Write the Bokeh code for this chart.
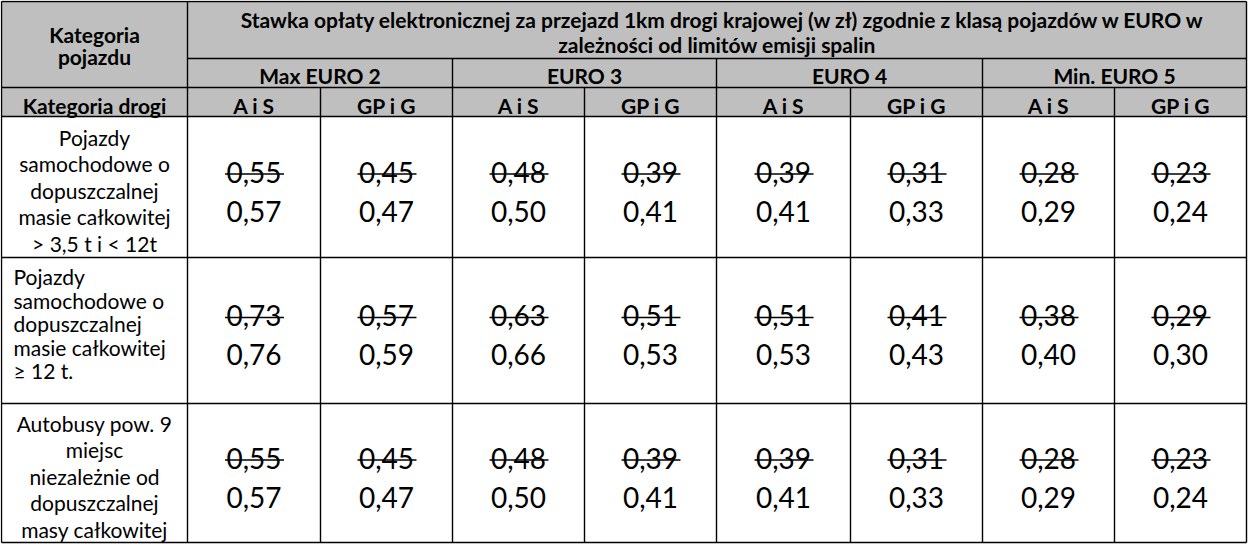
from bokeh.plotting import figure
from bokeh.models import Range1d, ColumnDataSource
from bokeh.core.properties import value
from bokeh.embed import file_html
from bokeh.resources import INLINE

# ---- data ----
title_lines = ["Stawka opłaty elektronicznej za przejazd 1km drogi krajowej (w zł) zgodnie z klasą pojazdów w EURO w",
               "zależności od limitów emisji spalin"]
corner_lines = ["Kategoria", "pojazdu"]
road_header = "Kategoria drogi"
euro_groups = ["Max EURO 2", "EURO 3", "EURO 4", "Min. EURO 5"]
road_classes = ["A i S", "GP i G"]
vehicle_labels = [
    ["Pojazdy", "samochodowe o", "dopuszczalnej", "masie całkowitej", "> 3,5 t i < 12t"],
    ["Pojazdy", "samochodowe o", "dopuszczalnej", "masie całkowitej", "\u2265 12 t."],
    ["Autobusy pow. 9", "miejsc", "niezależnie od", "dopuszczalnej", "masy całkowitej"],
]
label_align = ["center", "left", "center"]
old_rates = [
    [0.55, 0.45, 0.48, 0.39, 0.39, 0.31, 0.28, 0.23],
    [0.73, 0.57, 0.63, 0.51, 0.51, 0.41, 0.38, 0.29],
    [0.55, 0.45, 0.48, 0.39, 0.39, 0.31, 0.28, 0.23],
]
new_rates = [
    [0.57, 0.47, 0.50, 0.41, 0.41, 0.33, 0.29, 0.24],
    [0.76, 0.59, 0.66, 0.53, 0.53, 0.43, 0.40, 0.30],
    [0.57, 0.47, 0.50, 0.41, 0.41, 0.33, 0.29, 0.24],
]

# ---- layout (pixels) ----
X0, X1 = 6, 1251
col_edges = [6, 192, 325, 457, 589, 721, 855, 987, 1119, 1251]
row_edges = [6, 63, 92, 121, 262, 408, 547]
FONT = "Lato"
GRAY = "#bfbfbf"
HS = 21      # header font size
LS = 21      # label font size
NS = 28      # number font size

W, H = 1249, 545
p = figure(width=W, height=H, x_range=Range1d(5, 5 + W), y_range=Range1d(5 + H, 5),
           output_backend="svg", toolbar_location=None, min_border=0)
p.axis.visible = False
p.grid.visible = False
p.outline_line_color = None
p.background_fill_color = "white"

# header background
p.quad(left=[X0], right=[X1], top=[row_edges[0]], bottom=[row_edges[3]],
       fill_color=GRAY, line_color=None)

# grid lines
segs = {"x0": [], "y0": [], "x1": [], "y1": []}
def seg(a, b, c, d):
    segs["x0"].append(a); segs["y0"].append(b); segs["x1"].append(c); segs["y1"].append(d)

seg(X0, row_edges[0], X1, row_edges[0])
seg(col_edges[1], row_edges[1], X1, row_edges[1])
for y in row_edges[2:]:
    seg(X0, y, X1, y)
seg(X0, row_edges[0], X0, row_edges[-1])
seg(X1, row_edges[0], X1, row_edges[-1])
seg(col_edges[1], row_edges[0], col_edges[1], row_edges[-1])
for i, x in enumerate(col_edges[2:-1]):
    if i % 2 == 1:
        seg(x, row_edges[1], x, row_edges[-1])
    else:
        seg(x, row_edges[2], x, row_edges[-1])
p.segment(x0="x0", y0="y0", x1="x1", y1="y1", source=ColumnDataSource(segs),
          line_color="black", line_width=1.4)

def txt(x, y, s, size, bold=False, align="center"):
    p.text(x=[x], y=[y], text=[s], text_font=value(FONT), text_font_size=f"{size}px",
           text_font_style="bold" if bold else "normal", text_align=align,
           text_baseline="middle", text_color="black")

cx_first = (col_edges[0] + col_edges[1]) / 2
# corner header
txt(cx_first, 39, corner_lines[0], HS, True)
txt(cx_first, 61, corner_lines[1], HS, True)
# title
cx_title = (col_edges[1] + col_edges[-1]) / 2 + 6
txt(cx_title, 24, title_lines[0], HS, True)
txt(cx_title - 6, 48.5, title_lines[1], HS, True)
# euro groups
for g, name in enumerate(euro_groups):
    cx = (col_edges[1 + 2 * g] + col_edges[3 + 2 * g]) / 2
    txt(cx, 80, name, HS, True)
# sub header
txt(cx_first, 110, road_header, HS, True)
for c in range(8):
    cx = (col_edges[1 + c] + col_edges[2 + c]) / 2
    txt(cx, 110, road_classes[c % 2], HS, True)

# data rows
strike = {"x0": [], "y0": [], "x1": [], "y1": []}
for r in range(3):
    top, bot = row_edges[3 + r], row_edges[4 + r]
    mid = (top + bot) / 2
    lines = vehicle_labels[r]
    if label_align[r] == "center":
        ys = [mid + 3 - 53 + 26.5 * k for k in range(len(lines))]
        for yk, s in zip(ys, lines):
            txt(cx_first, yk, s, LS)
    else:
        ys = [top + 19 + 23.5 * k for k in range(len(lines))]
        for yk, s in zip(ys, lines):
            txt(col_edges[0] + 12, yk, s, LS, align="left")
    for c in range(8):
        cx = (col_edges[1 + c] + col_edges[2 + c]) / 2
        so = f"{old_rates[r][c]:.2f}".replace(".", ",")
        sn = f"{new_rates[r][c]:.2f}".replace(".", ",")
        yo, yn = mid - 15, mid + 24
        txt(cx, yo, so, NS)
        txt(cx, yn, sn, NS)
        strike["x0"].append(cx - 29); strike["x1"].append(cx + 30)
        strike["y0"].append(yo + 2); strike["y1"].append(yo + 2)
p.segment(x0="x0", y0="y0", x1="x1", y1="y1", source=ColumnDataSource(strike),
          line_color="black", line_width=1.6)

open("out.html", "w").write(file_html(p, INLINE))
